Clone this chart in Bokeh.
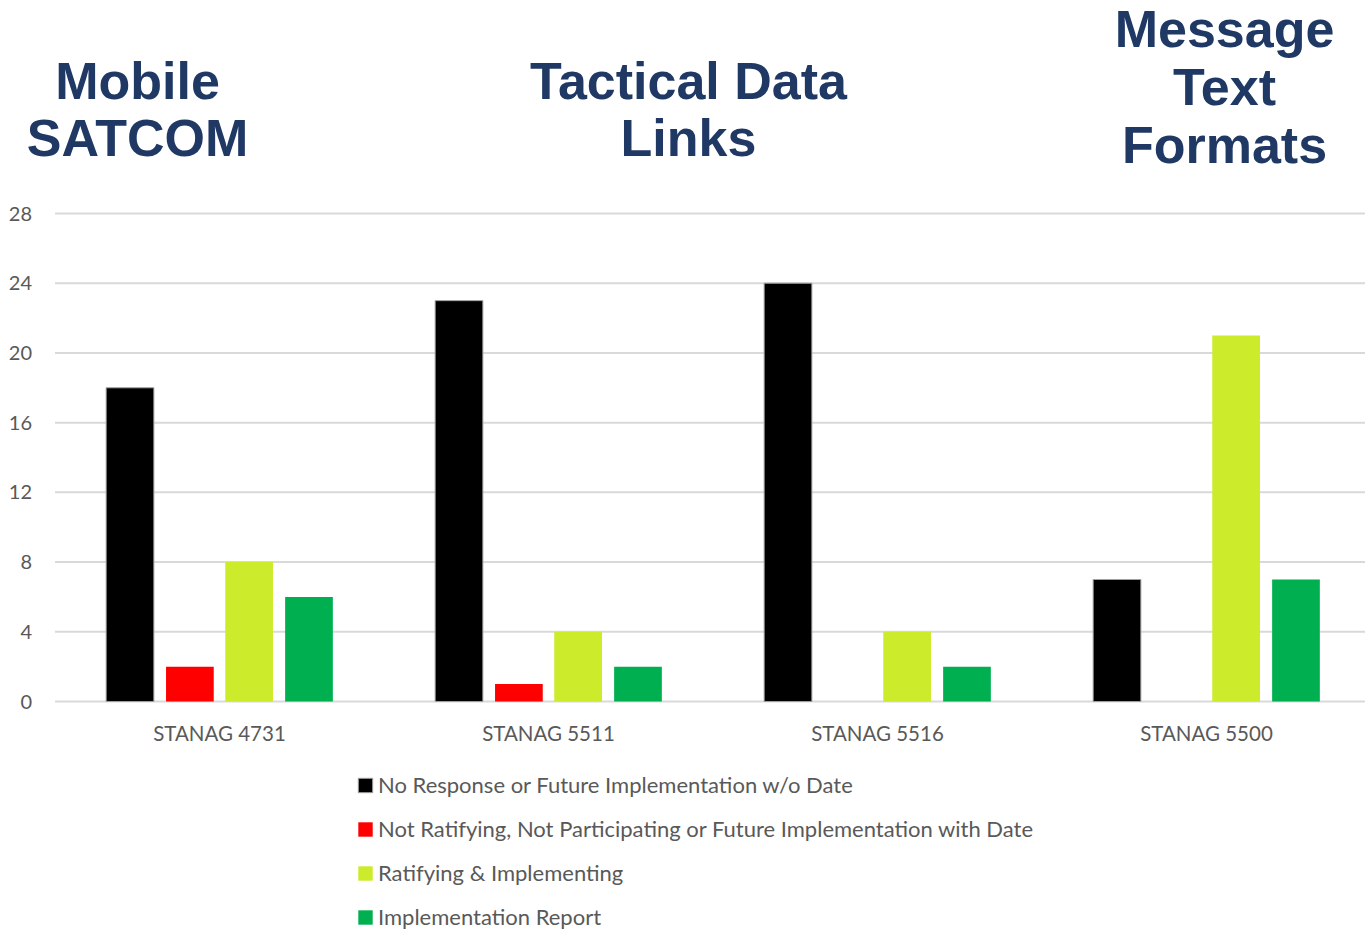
from bokeh.plotting import figure
from bokeh.models import Range1d, FixedTicker, Legend, LegendItem, ColumnDataSource
from bokeh.core.properties import value
from bokeh.embed import file_html
from bokeh.resources import INLINE

# ---- data ----
categories = ["STANAG 4731", "STANAG 5511", "STANAG 5516", "STANAG 5500"]
series_names = [
    "No Response or Future Implementation w/o Date",
    "Not Ratifying, Not Participating or Future Implementation with Date",
    "Ratifying & Implementing",
    "Implementation Report",
]
no_response = [18, 23, 24, 7]
not_ratifying = [2, 1, 0, 0]
ratifying = [8, 4, 4, 21]
impl_report = [6, 2, 2, 7]
y_ticks = [0, 4, 8, 12, 16, 20, 24, 28]
group_titles = [["Mobile", "SATCOM"], ["Tactical Data", "Links"], ["Message", "Text", "Formats"]]

# ---- layout (pixels of the canvas) ----
W, H = 1365, 932
X0_PX, Y0_PX = 54.5, 701.0        # where the chart's origin sits
PX_X = 329.0                      # pixels per category
PX_Y = 488.0 / 28.0               # pixels per count

def dx(px):
    return (px - X0_PX) / PX_X

def dy(py):
    return (Y0_PX - py) / PX_Y

colors = ["#000000", "#FF0000", "#CCEB2A", "#00B050"]
offsets = [-0.272, -0.09, 0.09, 0.272]
bar_w = 0.145
label_font = "Lato"
grey = "#595959"

p = figure(frame_width=W, frame_height=H,
           x_range=Range1d(dx(0), dx(W)), y_range=Range1d(dy(H), dy(0)),
           output_backend="svg", toolbar_location=None, min_border=0)
p.outline_line_color = None
p.background_fill_color = "white"
p.border_fill_color = "white"
p.xgrid.visible = False
p.ygrid.visible = False

# horizontal gridlines restricted to the plot area
x_lo, x_hi = 0.0, dx(W)
p.segment(x0=[x_lo] * len(y_ticks), x1=[x_hi] * len(y_ticks), y0=y_ticks, y1=y_ticks,
          line_color="#D9D9D9", line_width=2)

# y axis drawn at x = 0
p.yaxis.fixed_location = 0
p.yaxis.ticker = FixedTicker(ticks=y_ticks)
p.yaxis.axis_line_color = None
p.yaxis.major_tick_line_color = None
p.yaxis.minor_tick_line_color = None
p.yaxis.major_tick_out = 0
p.yaxis.major_tick_in = 0
p.yaxis.minor_tick_out = 0
p.yaxis.major_label_standoff = 23
p.yaxis.major_label_text_font = label_font
p.yaxis.major_label_text_font_size = "20px"
p.yaxis.major_label_text_color = grey

# x axis drawn at y = 0
xt = [i + 0.5 for i in range(len(categories))]
p.xaxis.fixed_location = 0
p.xaxis.ticker = FixedTicker(ticks=xt)
p.xaxis.major_label_overrides = {tk: c for tk, c in zip(xt, categories)}
p.xaxis.axis_line_color = None
p.xaxis.major_tick_line_color = None
p.xaxis.minor_tick_line_color = None
p.xaxis.major_tick_out = 0
p.xaxis.major_tick_in = 0
p.xaxis.minor_tick_out = 0
p.xaxis.major_label_standoff = 19
p.xaxis.major_label_text_font = label_font
p.xaxis.major_label_text_font_size = "20.5px"
p.xaxis.major_label_text_color = grey

series = [no_response, not_ratifying, ratifying, impl_report]
renderers = []
for vals, off, col in zip(series, offsets, colors):
    src = ColumnDataSource(dict(x=[i + 0.5 + off for i in range(len(categories))], top=vals))
    r = p.vbar(x="x", top="top", width=bar_w, bottom=0, source=src, fill_color=col,
               line_color="#A0A0A0" if col == "#000000" else None, line_width=1)
    renderers.append(r)

# group titles
title_pos = [(137, [80, 137]), (688, [80, 137]), (1224, [28, 86, 144])]
tx, ty, tt = [], [], []
for (cx, ys), lines in zip(title_pos, group_titles):
    for yy, txt in zip(ys, lines):
        tx.append(dx(cx)); ty.append(dy(yy)); tt.append(txt)
p.text(x=tx, y=ty, text=tt, text_align="center", text_baseline="middle",
       text_font=value("Liberation Sans"), text_font_style="bold",
       text_font_size="52px", text_color="#1F3864")

legend = Legend(items=[LegendItem(label=n, renderers=[r]) for n, r in zip(series_names, renderers)],
                location=(356, 2), orientation="vertical",
                glyph_width=18, glyph_height=18, label_height=27, label_standoff=4,
                spacing=17, padding=0, margin=0,
                border_line_color=None, background_fill_alpha=0,
                label_text_font=label_font, label_text_font_size="22px",
                label_text_color=grey)
p.add_layout(legend)

open("out.html", "w").write(file_html(p, INLINE))
